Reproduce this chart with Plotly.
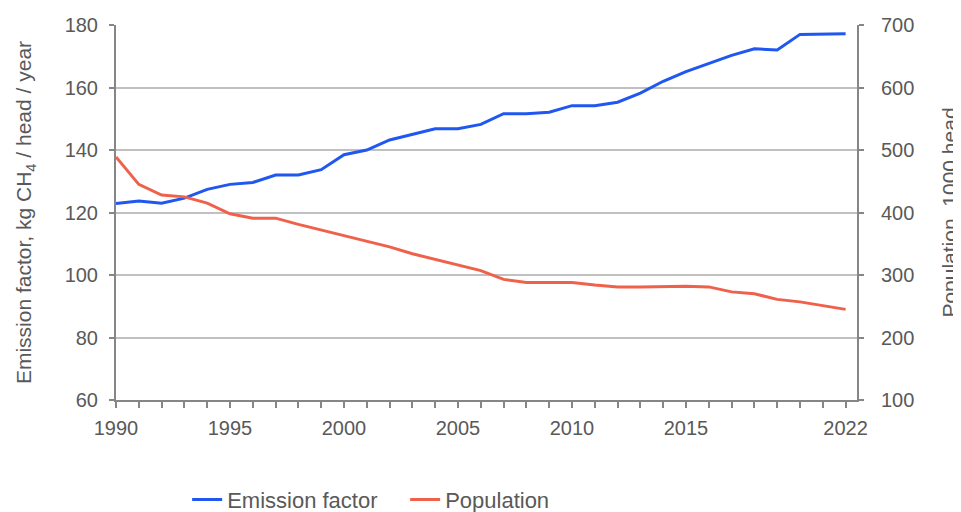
"""Emission factor and population chart, 1990-2022."""

import plotly.graph_objects as go

YEARS = list(range(1990, 2023))

EMISSION_FACTOR = [
    122.9, 123.7, 123.0, 124.6, 127.4, 129.0, 129.6, 132.0, 132.0, 133.7,
    138.5, 140.0, 143.2, 145.0, 146.8, 146.8, 148.2, 151.6, 151.6, 152.1,
    154.2, 154.2, 155.3, 158.2, 162.0, 165.1, 167.8, 170.3, 172.4, 172.0,
    177.0, 177.2, 177.2,
]

POPULATION = [
    489, 445, 428, 425, 415, 398, 391, 391, 381, 372,
    362, 353, 345, 334, 325, 317, 307, 293, 288, 288,
    288, 284, 281, 281, 282, 282, 281, 273, 270, 261,
    257, 251, 245,
]

X_TICKS = [1990, 1995, 2000, 2005, 2010, 2015, 2022]

BLUE = '#1f57f0'
RED = '#f0614b'
AXIS_GRAY = '#868686'
GRID_GRAY = '#c0c0c0'
TEXT_GRAY = '#595959'

fig = go.Figure()

fig.add_trace(go.Scatter(
    x=YEARS, y=EMISSION_FACTOR, name='Emission factor',
    mode='lines', line=dict(color=BLUE, width=3),
))

fig.add_trace(go.Scatter(
    x=YEARS, y=POPULATION, name='Population',
    mode='lines', line=dict(color=RED, width=3), yaxis='y2',
))

# page body has an 8px margin, so the figure is sized to what is left
fig.update_layout(
    width=953,
    height=504,
    paper_bgcolor='white',
    plot_bgcolor='white',
    font=dict(family='Liberation Sans, Arial, sans-serif', size=20, color=TEXT_GRAY),
    margin=dict(l=108, r=104, t=17, b=112, autoexpand=False),
    showlegend=True,
    legend=dict(
        orientation='h', x=0.096, xanchor='left', y=-0.266, yanchor='middle',
        entrywidth=173, entrywidthmode='pixels',
        font=dict(size=22, color=TEXT_GRAY),
    ),
    xaxis=dict(
        range=[1990, 2022.5],
        tickmode='array', tickvals=X_TICKS,
        showgrid=False, zeroline=False,
        showline=True, linecolor=AXIS_GRAY, linewidth=2,
        ticks='outside', ticklen=6, tickcolor=AXIS_GRAY, tickwidth=1.5,
        ticklabelstandoff=3,
        minor=dict(dtick=1, tick0=1990, ticks='outside', ticklen=6,
                   tickcolor=AXIS_GRAY, tickwidth=1.5, showgrid=False),
    ),
    yaxis=dict(
        range=[60, 180], dtick=20,
        showgrid=True, gridcolor=GRID_GRAY, gridwidth=1.5,
        zeroline=False,
        showline=True, linecolor=AXIS_GRAY, linewidth=2,
        ticks='outside', ticklen=5, tickcolor=AXIS_GRAY, tickwidth=1.5,
        ticklabelstandoff=7,
        title=dict(text='Emission factor, kg CH<sub>4</sub> / head / year',
                   font=dict(size=21, color=TEXT_GRAY), standoff=27),
    ),
    yaxis2=dict(
        range=[100, 700], dtick=100,
        overlaying='y', side='right',
        showgrid=False, zeroline=False,
        showline=True, linecolor=AXIS_GRAY, linewidth=2,
        ticks='outside', ticklen=5, tickcolor=AXIS_GRAY, tickwidth=1.5,
        ticklabelstandoff=13,
        title=dict(text='Population, 1000 head',
                   font=dict(size=21, color=TEXT_GRAY), standoff=30),
    ),
)

fig.write_html('out.html')
